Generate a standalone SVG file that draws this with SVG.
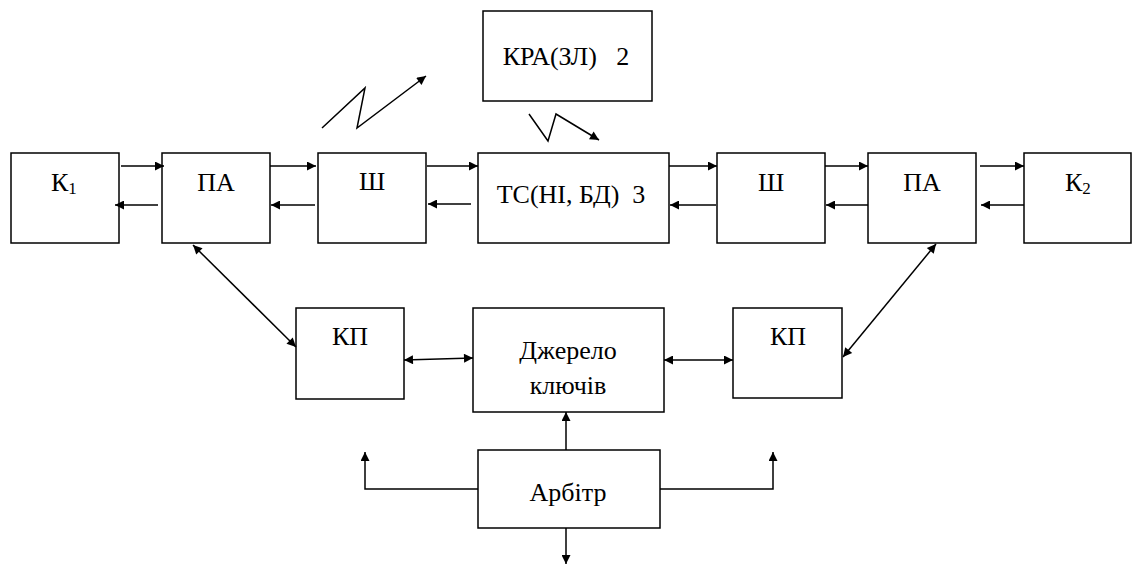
<svg xmlns="http://www.w3.org/2000/svg" width="1132" height="564" viewBox="0 0 1132 564">
<style>
.box{fill:#fff;stroke:#000;stroke-width:1.5}
text{font-family:'Liberation Serif','Times New Roman','DejaVu Serif',serif;font-size:26px;fill:#000}
.t{text-anchor:middle}
.c{fill:none;stroke:#000;stroke-width:1.5}
.a{marker-end:url(#ah)}
.d{marker-start:url(#ah);marker-end:url(#ah)}
</style>
<defs>
<marker id="ah" viewBox="0 0 10 10" refX="10" refY="5" markerWidth="11" markerHeight="9" markerUnits="userSpaceOnUse" orient="auto-start-reverse">
<path d="M0,0 L10,5 L0,10 z" fill="#000"/>
</marker>
</defs>
<rect width="1132" height="564" fill="#fff"/>
<g id="K1"><rect class="box" x="11" y="153" width="108" height="90"/><text font-family="Liberation Serif, serif" x="51" y="191">К<tspan font-size="17" dy="3">1</tspan></text></g>
<g id="PA1"><rect class="box" x="162" y="153" width="108" height="90"/><text class="t" x="216" y="191">ПА</text></g>
<g id="SH1"><rect class="box" x="318" y="153" width="108" height="90"/><text class="t" x="372" y="190">Ш</text></g>
<g id="TS"><rect class="box" x="478" y="153" width="191" height="90"/><text class="t" x="571" y="203" xml:space="preserve">ТС(НІ, БД)  3</text></g>
<g id="KRA"><rect class="box" x="483" y="11" width="169" height="90"/><text class="t" x="566" y="65" xml:space="preserve">КРА(ЗЛ)   2</text></g>
<g id="SH2"><rect class="box" x="717" y="153" width="108" height="90"/><text class="t" x="771" y="191">Ш</text></g>
<g id="PA2"><rect class="box" x="868" y="153" width="108" height="90"/><text class="t" x="922" y="191">ПА</text></g>
<g id="K2"><rect class="box" x="1024" y="153" width="107" height="90"/><text x="1065" y="191">К<tspan font-size="17" dy="3">2</tspan></text></g>
<g id="KP1"><rect class="box" x="296" y="308" width="108" height="91"/><text class="t" x="350" y="345">КП</text></g>
<g id="DZH"><rect class="box" x="473" y="308" width="191" height="104"/><text class="t" x="568" y="359">Джерело</text><text class="t" x="568" y="394">ключів</text></g>
<g id="KP2"><rect class="box" x="733" y="308" width="109" height="90"/><text class="t" x="788" y="345">КП</text></g>
<g id="ARB"><rect class="box" x="478" y="450" width="182" height="78"/><text class="t" x="568" y="501">Арбітр</text></g>
<g id="connectors">
<line class="c a" x1="121" y1="166" x2="164" y2="166"/>
<line class="c a" x1="158" y1="205" x2="115" y2="205"/>
<line class="c a" x1="270" y1="166" x2="316" y2="166"/>
<line class="c a" x1="315" y1="205" x2="271" y2="205"/>
<line class="c a" x1="427" y1="166" x2="478" y2="166"/>
<line class="c a" x1="471" y1="204" x2="428" y2="204"/>
<line class="c a" x1="669" y1="166" x2="717" y2="166"/>
<line class="c a" x1="716" y1="205" x2="670" y2="205"/>
<line class="c a" x1="825" y1="166" x2="868" y2="166"/>
<line class="c a" x1="868" y1="205" x2="826" y2="205"/>
<line class="c a" x1="980" y1="166" x2="1024" y2="166"/>
<line class="c a" x1="1024" y1="205" x2="981" y2="205"/>
<line class="c d" x1="193" y1="245" x2="296" y2="347"/>
<line class="c d" x1="404" y1="360" x2="473" y2="358"/>
<line class="c d" x1="664" y1="360" x2="733" y2="360"/>
<line class="c d" x1="936" y1="244" x2="843" y2="357"/>
<line class="c a" x1="566" y1="450" x2="566" y2="412"/>
<polyline class="c a" points="478,489 365,489 365,452"/>
<polyline class="c a" points="660,489 773,489 773,452"/>
<line class="c a" x1="566" y1="528" x2="566" y2="564"/>
<polyline class="c a" points="322,128 365,88 357,128 426,76"/>
<polyline class="c a" points="529,114 548,141 556,114 599,140"/>
</g>
</svg>
